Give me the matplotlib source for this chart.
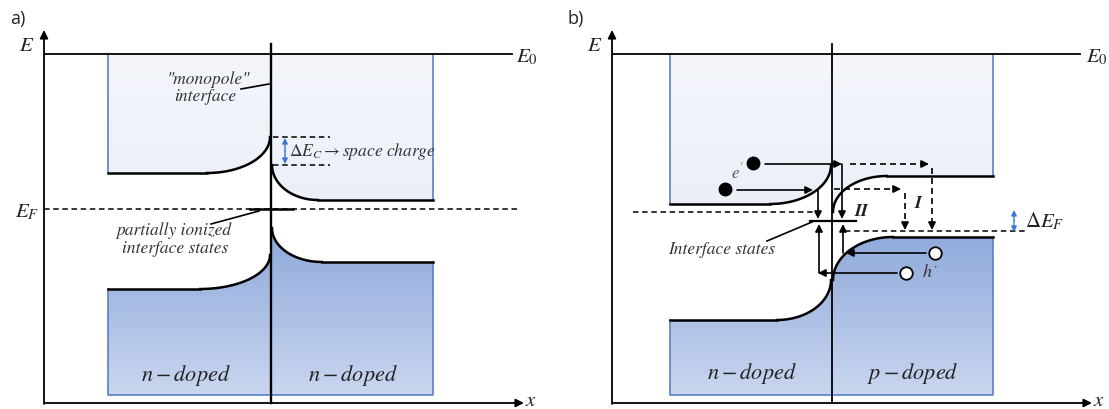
import numpy as np
import matplotlib
matplotlib.use('Agg')
import matplotlib.pyplot as plt
from matplotlib.patches import Polygon
from matplotlib.colors import to_rgb

plt.rcParams['mathtext.fontset'] = 'stix'

W, H = 1109, 409

# ---- sketch levels (pixel coordinates) ----
E0_Y = 54
AXIS_Y = 403
BOX_BOTTOM = 395

# panel a
A_AXIS_X = 44
A_BOX_X = [108, 271, 433]          # left edge, interface, right edge
A_CB_LEFT = [173, 207, 137]         # flat level, bend start x, level at interface
A_CB_RIGHT = [200, 318, 165]
A_VB_LEFT = [289, 200, 255]
A_VB_RIGHT = [262, 322, 228]
A_EF_Y = 209

# panel b
B_AXIS_X = 612
B_BOX_X = [670, 832, 993]
B_CB_LEFT = [204, 770, 165]
B_CB_RIGHT = [176, 887, 212]
B_VB_LEFT = [320, 777, 280]
B_VB_RIGHT = [237, 893, 280]
B_EF_LEFT_Y = 212
B_EF_RIGHT_Y = 231

ELECTRONS = [(753, 163), (725, 189)]
HOLES = [(935, 253), (906, 273)]

CB_COLORS = ['#f4f6fb', '#eaeff8']
VB_COLORS = ['#8fa9db', '#c9d6ef']
EDGE_BLUE = '#5a7fc6'
TXT = '#333333'

fig = plt.figure(figsize=(W / 100, H / 100), dpi=100)
ax = fig.add_axes([0, 0, 1, 1])
ax.set_xlim(0, W)
ax.set_ylim(H, 0)
ax.axis('off')


def bend(x_start, y_flat, x_int, y_int, n=80):
    t = np.linspace(0, np.pi / 2, n)
    x = x_start + (x_int - x_start) * np.sin(t)
    y = y_flat + (y_int - y_flat) * (1 - np.cos(t))
    return x, y


def grad_fill(pts, colors, y0, y1):
    pts = np.asarray(pts)
    xmin, xmax = pts[:, 0].min(), pts[:, 0].max()
    ymin, ymax = pts[:, 1].min(), pts[:, 1].max()
    ys = np.linspace(ymin, ymax, 200)
    f = np.clip((ys - y0) / (y1 - y0), 0, 1)[:, None]
    c0, c1 = np.array(to_rgb(colors[0])), np.array(to_rgb(colors[1]))
    img = (c0[None, :] * (1 - f) + c1[None, :] * f)[:, None, :]
    img = np.repeat(img, 2, axis=1)
    im = ax.imshow(img, extent=[xmin, xmax, ymax, ymin], aspect='auto',
                   interpolation='bilinear', zorder=1)
    patch = Polygon(pts, closed=True, facecolor='none', edgecolor='none')
    ax.add_patch(patch)
    im.set_clip_path(patch)


def arrow(x0, y0, x1, y1, color='k', lw=1.2, style='-|>', ms=11, dashed=False):
    if dashed:
        L = np.hypot(x1 - x0, y1 - y0)
        ux, uy = (x1 - x0) / L, (y1 - y0) / L
        hx, hy = x1 - ux * 7, y1 - uy * 7
        ax.plot([x0, hx], [y0, hy], color=color, lw=lw, ls=(0, (3.6, 2.4)), zorder=5)
        ax.annotate('', xy=(x1, y1), xytext=(hx, hy),
                    arrowprops=dict(arrowstyle=style, color=color, lw=lw,
                                    mutation_scale=ms, shrinkA=0, shrinkB=0), zorder=5)
    else:
        ax.annotate('', xy=(x1, y1), xytext=(x0, y0),
                    arrowprops=dict(arrowstyle=style, color=color, lw=lw,
                                    mutation_scale=ms, shrinkA=0, shrinkB=0), zorder=5)


def panel(axis_x, box_x, cbl, cbr, vbl, vbr, right_end, xlabel_x, int_lw):
    xl, xi, xr = box_x
    # conduction band, left
    cx, cy = bend(cbl[1], cbl[0], xi - 1, cbl[2])
    pts = [(xl, E0_Y), (xi, E0_Y), (xi, cbl[2])] + list(zip(cx[::-1], cy[::-1])) + [(xl, cbl[0])]
    grad_fill(pts, CB_COLORS, E0_Y, 215)
    ax.plot([xl, cbl[1]], [cbl[0], cbl[0]], color='k', lw=1.8, zorder=4)
    ax.plot(cx, cy, color='k', lw=1.8, zorder=4)
    ax.plot([xl, xl], [E0_Y, cbl[0]], color=EDGE_BLUE, lw=1.2, zorder=3)
    # conduction band, right
    cx, cy = bend(cbr[1], cbr[0], xi + 1, cbr[2])
    pts = [(xi, E0_Y), (xr, E0_Y), (xr, cbr[0])] + list(zip(cx, cy)) + [(xi, cbr[2])]
    grad_fill(pts, CB_COLORS, E0_Y, 215)
    ax.plot([cbr[1], xr], [cbr[0], cbr[0]], color='k', lw=1.8, zorder=4)
    ax.plot(cx, cy, color='k', lw=1.8, zorder=4)
    ax.plot([xr, xr], [E0_Y, cbr[0]], color=EDGE_BLUE, lw=1.2, zorder=3)
    # valence band, left
    vx, vy = bend(vbl[1], vbl[0], xi - 1, vbl[2])
    pts = [(xl, vbl[0])] + list(zip(vx, vy)) + [(xi, vbl[2]), (xi, BOX_BOTTOM), (xl, BOX_BOTTOM)]
    grad_fill(pts, VB_COLORS, 232, BOX_BOTTOM)
    ax.plot([xl, vbl[1]], [vbl[0], vbl[0]], color='k', lw=1.8, zorder=4)
    ax.plot(vx, vy, color='k', lw=1.8, zorder=4)
    # valence band, right
    vx, vy = bend(vbr[1], vbr[0], xi + 1, vbr[2])
    pts = [(xr, vbr[0])] + list(zip(vx, vy)) + [(xi, vbr[2]), (xi, BOX_BOTTOM), (xr, BOX_BOTTOM)]
    grad_fill(pts, VB_COLORS, 232, BOX_BOTTOM)
    ax.plot([vbr[1], xr], [vbr[0], vbr[0]], color='k', lw=1.8, zorder=4)
    ax.plot(vx, vy, color='k', lw=1.8, zorder=4)
    # valence box edges
    ax.plot([xl, xl, xr, xr], [vbl[0], BOX_BOTTOM, BOX_BOTTOM, vbr[0]],
            color=EDGE_BLUE, lw=1.2, zorder=3)
    # vacuum level, axes, interface
    ax.plot([axis_x, right_end], [E0_Y, E0_Y], color='k', lw=1.3, zorder=4)
    arrow(axis_x, AXIS_Y + 1, axis_x, 30, lw=1.3, ms=12)
    arrow(axis_x, AXIS_Y, xlabel_x, AXIS_Y, lw=1.3, ms=12)
    ax.plot([xi, xi], [44, AXIS_Y], color='k', lw=int_lw, zorder=4)


LBL = dict(family='STIXGeneral', style='italic', fontsize=12.5, color=TXT,
           ha='center', va='center')

# ================= panel a =================
panel(A_AXIS_X, A_BOX_X, A_CB_LEFT, A_CB_RIGHT, A_VB_LEFT, A_VB_RIGHT, 512, 524, 1.7)
ax.plot([A_AXIS_X, 518], [A_EF_Y, A_EF_Y], color='k', lw=1.1, ls=(0, (3.6, 2.4)), zorder=3)
ax.plot([250, 293], [A_EF_Y, A_EF_Y], color='k', lw=1.8, zorder=5)
# delta E_C
ax.plot([273, 330], [A_CB_LEFT[2], A_CB_LEFT[2]], color='k', lw=1.1, ls=(0, (3.6, 2.4)), zorder=5)
ax.plot([273, 330], [A_CB_RIGHT[2], A_CB_RIGHT[2]], color='k', lw=1.1, ls=(0, (3.6, 2.4)), zorder=5)
arrow(285, 151, 285, A_CB_LEFT[2] + 1, color='#3a78d4', lw=1.0, ms=8)
arrow(285, 151, 285, A_CB_RIGHT[2] - 1, color='#3a78d4', lw=1.0, ms=8)
ax.text(289, 151, r'$\Delta E_C \rightarrow space\ charge$', fontsize=12.5, color=TXT,
        ha='left', va='center', zorder=6)
# labels
ax.text(208, 80, '"monopole"', **LBL)
ax.text(205, 97, 'interface', **LBL)
ax.plot([241, 269], [89, 84], color='k', lw=1.2)
ax.text(174, 231, 'partially ionized', **LBL)
ax.text(175, 249, 'interface states', **LBL)
ax.plot([211, 259], [224, 211], color='k', lw=1.2, zorder=5)
ax.text(186, 375, r'$n - doped$', fontsize=16, color='#222222', ha='center', va='center')
ax.text(353, 375, r'$n - doped$', fontsize=16, color='#222222', ha='center', va='center')
ax.text(27, 45, r'$E$', fontsize=15, color='#222222', ha='center', va='center')
ax.text(27, 212, r'$E_F$', fontsize=15, color='#222222', ha='center', va='center')
ax.text(527, 57, r'$E_0$', fontsize=15, color='#222222', ha='center', va='center')
ax.text(531, 400, r'$x$', fontsize=15, color='#222222', ha='center', va='center')
ax.text(18, 19, 'a)', family='Open Sans', fontsize=13, color='#222222', ha='center', va='center')

# ================= panel b =================
panel(B_AXIS_X, B_BOX_X, B_CB_LEFT, B_CB_RIGHT, B_VB_LEFT, B_VB_RIGHT, 1080, 1092, 1.3)
ax.plot([633, 813], [B_EF_LEFT_Y, B_EF_LEFT_Y], color='k', lw=1.1, ls=(0, (3.6, 2.4)), zorder=3)
ax.plot([845, 1027], [B_EF_RIGHT_Y, B_EF_RIGHT_Y], color='k', lw=1.1, ls=(0, (3.6, 2.4)), zorder=3)
ax.plot([810, 856], [221, 221], color='k', lw=1.6, zorder=5)
# delta E_F
arrow(1014, 220, 1014, B_EF_LEFT_Y - 2, color='#3a78d4', lw=1.0, ms=8)
arrow(1014, 220, 1014, B_EF_RIGHT_Y + 1, color='#3a78d4', lw=1.0, ms=8)
ax.text(1025, 221, r'$\Delta E_F$', fontsize=15, color='#222222', ha='left', va='center')
# electrons and holes
for ex, ey in ELECTRONS:
    ax.plot(ex, ey, 'o', color='k', ms=9, zorder=6)
for hx, hy in HOLES:
    ax.plot(hx, hy, 'o', mfc='white', mec='k', mew=1.3, ms=9, zorder=6)
arrow(765, 164, 842, 164)
arrow(842, 164, 842, 219)
arrow(850, 164, 929, 164, dashed=True)
arrow(932, 168, 932, 230, dashed=True)
arrow(737, 190, 813, 190)
arrow(818, 190, 818, 219)
arrow(834, 189, 901, 189, dashed=True)
arrow(905, 193, 905, 230, dashed=True)
arrow(926, 253, 846, 253)
arrow(843, 253, 843, 224)
arrow(897, 273, 818, 273)
arrow(819, 273, 819, 224)
ax.text(918, 204, 'I', family='STIXGeneral', style='italic', weight='bold', fontsize=13,
        color='#222222', ha='center', va='center')
ax.text(862, 212, 'II', family='STIXGeneral', style='italic', weight='bold', fontsize=13,
        color='#222222', ha='center', va='center')
ax.text(737, 172, r"$e'$", fontsize=12, color='#555555', ha='center', va='center', zorder=6)
ax.text(930, 272, r'$h^{\cdot}$', fontsize=13, color='#333333', ha='center', va='center', zorder=6)
ax.text(722, 250, 'Interface states', **LBL)
ax.plot([767, 812], [241, 222], color='k', lw=1.2, zorder=5)
ax.text(913, 374, r'$p - doped$', fontsize=16, color='#222222', ha='center', va='center')
ax.text(752, 374, r'$n - doped$', fontsize=16, color='#222222', ha='center', va='center')
ax.text(595, 45, r'$E$', fontsize=15, color='#222222', ha='center', va='center')
ax.text(1097, 57, r'$E_0$', fontsize=15, color='#222222', ha='center', va='center')
ax.text(1099, 400, r'$x$', fontsize=15, color='#222222', ha='center', va='center')
ax.text(576, 19, 'b)', family='Open Sans', fontsize=13, color='#222222', ha='center', va='center')

fig.savefig('out.png', dpi=100)
